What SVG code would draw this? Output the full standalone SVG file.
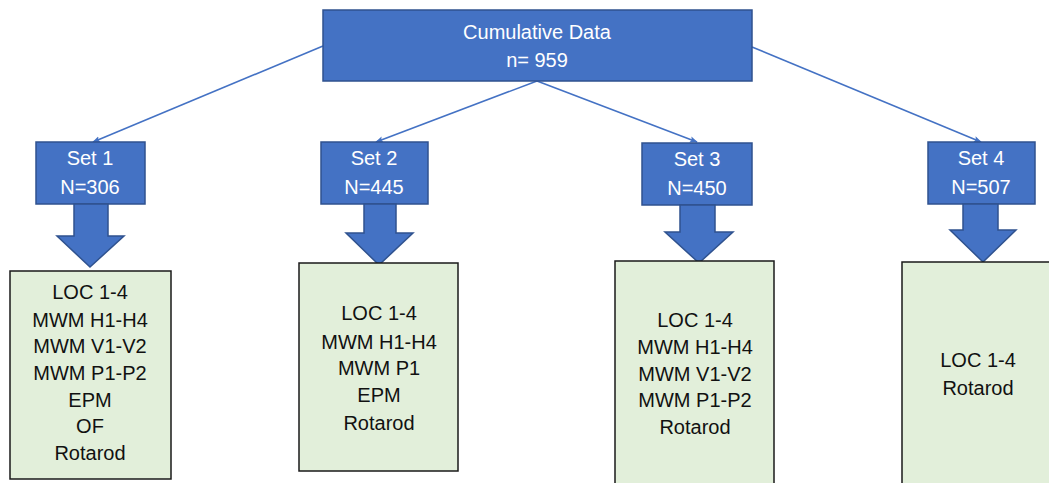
<svg xmlns="http://www.w3.org/2000/svg" width="1049" height="483" viewBox="0 0 1049 483">
<style>
.blue{fill:#4472C4;stroke:#2F528F;stroke-width:1.5}
.green{fill:#E2EFDA;stroke:#1a1a1a;stroke-width:1.5}
.wt{font-family:"Liberation Sans",Arial,sans-serif;font-size:20px;fill:#ffffff;text-anchor:middle}
.bt{font-family:"Liberation Sans",Arial,sans-serif;font-size:20px;fill:#111111;text-anchor:middle}
.conn{stroke:#4472C4;stroke-width:1.6;fill:none;marker-end:url(#ah)}
</style>
<defs>
<marker id="ah" viewBox="0 0 10 10" refX="9" refY="5" markerWidth="5" markerHeight="5" orient="auto" markerUnits="strokeWidth">
<path d="M0,1 L10,5 L0,9 L2,5 z" fill="#4472C4"/>
</marker>
</defs>
<rect width="1049" height="483" fill="#ffffff"/>
<g id="connectors">
<line class="conn" x1="323" y1="46" x2="93" y2="142"/>
<line class="conn" x1="537" y1="81" x2="376" y2="142"/>
<line class="conn" x1="537" y1="81" x2="697" y2="142"/>
<line class="conn" x1="752" y1="47" x2="981" y2="142"/>
</g>
<g id="root">
<rect class="blue" x="323" y="10" width="429" height="71"/>
<text class="wt" x="537" y="39">Cumulative Data</text>
<text class="wt" x="537" y="67">n= 959</text>
</g>
<g id="set1">
<rect class="blue" x="36" y="142" width="109" height="62"/>
<text class="wt" x="90" y="165">Set 1</text>
<text class="wt" x="90" y="194">N=306</text>
<polygon class="blue" points="74,204 108,204 108,236 124,236 90,267 57,236 74,236"/>
</g>
<g id="list1">
<rect class="green" x="10" y="271" width="161" height="208"/>
<text class="bt" x="90" y="299">LOC 1-4</text>
<text class="bt" x="90" y="327">MWM H1-H4</text>
<text class="bt" x="90" y="353">MWM V1-V2</text>
<text class="bt" x="90" y="380">MWM P1-P2</text>
<text class="bt" x="90" y="407">EPM</text>
<text class="bt" x="90" y="433">OF</text>
<text class="bt" x="90" y="460">Rotarod</text>
</g>
<g id="set2">
<rect class="blue" x="321" y="142" width="107" height="62"/>
<text class="wt" x="374" y="165">Set 2</text>
<text class="wt" x="374" y="194">N=445</text>
<polygon class="blue" points="364,204 396,204 396,233 413,233 379,265 346,233 364,233"/>
</g>
<g id="list2">
<rect class="green" x="299" y="263" width="159" height="208"/>
<text class="bt" x="379" y="320">LOC 1-4</text>
<text class="bt" x="379" y="349">MWM H1-H4</text>
<text class="bt" x="379" y="375">MWM P1</text>
<text class="bt" x="379" y="402">EPM</text>
<text class="bt" x="379" y="430">Rotarod</text>
</g>
<g id="set3">
<rect class="blue" x="642" y="143" width="110" height="62"/>
<text class="wt" x="697" y="166">Set 3</text>
<text class="wt" x="697" y="195">N=450</text>
<polygon class="blue" points="680,205 715,205 715,232 733,232 699,263 665,232 680,232"/>
</g>
<g id="list3">
<rect class="green" x="615" y="261" width="159" height="240"/>
<text class="bt" x="695" y="327">LOC 1-4</text>
<text class="bt" x="695" y="354">MWM H1-H4</text>
<text class="bt" x="695" y="381">MWM V1-V2</text>
<text class="bt" x="695" y="407">MWM P1-P2</text>
<text class="bt" x="695" y="434">Rotarod</text>
</g>
<g id="set4">
<rect class="blue" x="928" y="142" width="107" height="62"/>
<text class="wt" x="981" y="165">Set 4</text>
<text class="wt" x="981" y="194">N=507</text>
<polygon class="blue" points="963,204 998,204 998,230 1016,230 983,262 950,230 963,230"/>
</g>
<g id="list4">
<rect class="green" x="902" y="262" width="160" height="240"/>
<text class="bt" x="978" y="367">LOC 1-4</text>
<text class="bt" x="978" y="395">Rotarod</text>
</g>
</svg>
